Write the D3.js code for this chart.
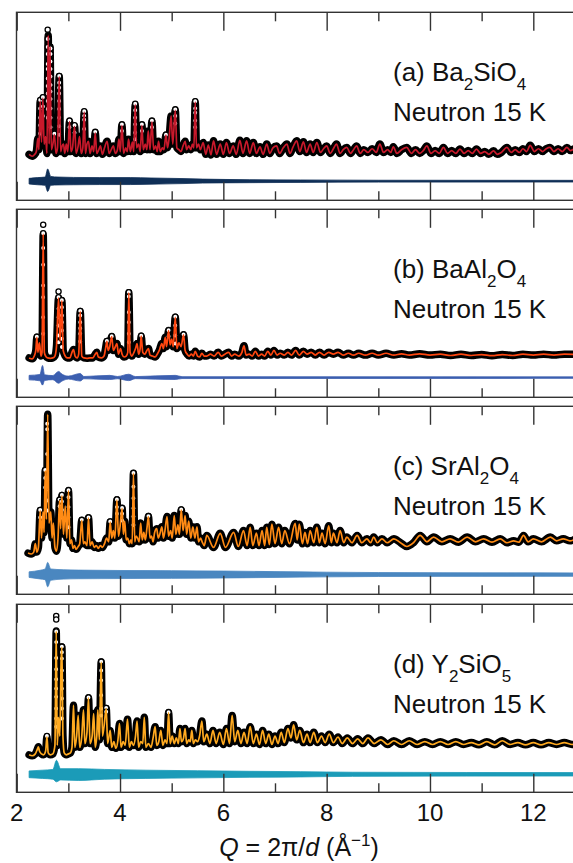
<!DOCTYPE html>
<html>
<head>
<meta charset="utf-8">
<script src="https://cdn.jsdelivr.net/npm/d3@7"></script>
<style>
  body { margin: 0; background: #fff; }
  svg { display: block; font-family: "Liberation Sans", Arial, Helvetica, sans-serif; }
</style>
</head>
<body>
<div id="chart"></div>
<script>
// ---- data: [Q (1/A), intensity (arb., 0-100 of panel height)] ----

// (a) Ba2SiO4 - calculated profile
var calcA = [[2.24,24.5],[2.30,23.5],[2.35,24.5],[2.38,26],[2.41,33],[2.43,27],[2.455,53],[2.48,31],[2.507,54.5],[2.53,30],[2.56,34],[2.585,25],[2.61,88],[2.628,30],[2.645,82],[2.67,27],[2.70,30],[2.73,35],[2.76,25],[2.79,28],[2.823,66],[2.85,26],[2.88,29],[2.906,30],[2.93,25],[2.96,30],[2.99,26],[3.022,42],[3.05,26],[3.08,28],[3.12,39.5],[3.15,25],[3.19,29],[3.216,34],[3.25,25],[3.28,28],[3.307,47],[3.33,25],[3.36,30],[3.39,31.5],[3.42,25],[3.46,29],[3.49,26],[3.52,36],[3.55,25],[3.59,27],[3.62,29],[3.66,24.5],[3.70,28],[3.75,31.5],[3.79,25],[3.83,27],[3.87,29],[3.91,25],[3.95,27],[3.98,32.6],[4.005,26],[4.037,40],[4.07,25],[4.11,28],[4.14,26],[4.165,32.6],[4.20,26],[4.24,31],[4.265,26],[4.294,51],[4.32,28],[4.36,30],[4.39,26],[4.424,40],[4.45,27],[4.49,30],[4.52,27],[4.546,37],[4.58,27],[4.618,42],[4.65,27],[4.69,29],[4.72,26],[4.745,31.5],[4.78,26],[4.82,28],[4.85,27],[4.889,34.8],[4.92,28],[4.95,33],[4.99,45],[5.02,30],[5.07,48],[5.10,28],[5.14,27],[5.18,26],[5.22,29],[5.26,31.5],[5.29,27],[5.33,29],[5.37,27],[5.40,30],[5.43,28],[5.456,52.4],[5.48,28],[5.52,30],[5.555,27],
  [5.61,30.8],[5.66,24.5],[5.71,29.5],[5.76,24.2],[5.81,31.7],[5.87,24.5],[5.94,30],[6.0,24.5],[6.06,30.8],[6.12,25],[6.19,29],[6.25,24.5],[6.32,32],[6.38,25],[6.45,31.7],[6.51,25],[6.58,30.8],[6.64,25],[6.71,28.5],[6.77,24.5],[6.84,30],[6.90,25],[6.96,28],[7.03,29],[7.09,25],[7.16,28],[7.23,30],[7.29,25],[7.35,28.5],[7.42,31.7],[7.48,26],[7.55,31.2],[7.61,25.5],[7.68,30],[7.74,25.5],[7.81,30.8],[7.88,25.5],[7.94,27.5],[8.0,29],[8.07,25],[8.13,27.5],[8.19,30],[8.26,25],[8.32,27],[8.39,28.2],[8.46,25],[8.52,27],[8.58,29],[8.65,25],[8.72,27],[8.8,25.5],[8.88,27.5],[8.96,25.5],[9.03,30],[9.1,25.5],[9.18,27],[9.24,25.5],[9.29,28.5],[9.36,25],[9.45,27],[9.55,28.2],[9.64,25],[9.72,27],[9.8,25],[9.87,26.5],[9.94,29],[10.02,25],[10.1,26.5],[10.18,25],[10.26,28.2],[10.34,25],[10.42,26.5],[10.5,25],[10.58,27.3],[10.66,25],[10.74,26.5],[10.82,25],[10.9,27.3],[10.98,25],[11.06,26],[11.14,24.5],[11.23,26.4],[11.3,24.5],[11.38,25.5],[11.49,28.2],[11.57,25.5],[11.65,27],[11.73,25.5],[11.8,27.5],[11.87,26],[11.94,29.3],[12.02,26],[12.1,27.5],[12.18,26],[12.25,27.5],[12.32,28.2],[12.4,26],[12.48,27.5],[12.56,26],[12.65,28.2],[12.72,26.5],[12.8,27.5],[12.9,27]];
// (a) observed points that stand clear of the curve on strong reflections
var obsA = [[2.60,91],[2.60,86],[2.60,81.8],[2.60,78],[2.60,72.7],[2.60,70],[2.60,65],[2.60,61],[2.60,57],[2.60,53],[2.60,48.7],[2.60,44],
  [2.655,81],[2.655,78],[2.655,74],[2.655,70],[2.655,66],[2.655,61.5],[2.655,58],[2.655,54],[2.655,49],[2.655,44],[2.655,39],
  [2.455,53.5],[2.455,49],[2.455,44],[2.455,40],[2.455,35.6],[2.507,55],[2.507,50],[2.507,45],[2.73,35.5],
  [2.823,66.3],[2.823,62.7],[2.823,60],[2.823,57],[2.823,53],[2.823,48.7],[2.823,44],[2.823,39.5],[2.823,35],
  [3.022,42.5],[3.022,39],[3.12,40],[3.12,36],[3.307,47.5],[3.307,45],[3.307,43],[3.307,38],[3.52,36.5],
  [4.037,40.5],[4.037,37],[4.294,51.5],[4.294,48],[4.294,44],[4.294,40.5],[4.294,36],[4.294,32.6],
  [4.424,40.5],[4.424,37],[4.618,42.5],[4.618,39],[4.889,35],[5.07,48.5],[5.07,45],[5.07,41],
  [5.456,52.8],[5.456,49],[5.456,46.7],[5.456,42.5],[5.456,39]];
// (a) difference envelope: [Q, upper, lower]
var diffA = [[2.24,1.5,1.5],[2.40,1.9,1.9],[2.55,2.2,2.2],[2.60,6.5,5.5],[2.66,2.5,2.2],[2.80,2.2,2],[3.1,2,1.9],[3.6,1.9,1.8],[4.2,1.9,1.8],[4.6,1.7,1.6],[5.2,1.4,1.3],[5.6,1.1,1],[6.5,0.8,0.8],[7.5,0.65,0.65],[9,0.5,0.5],[12.9,0.45,0.45]];

// (b) BaAl2O4
var calcB = [[2.24,21],[2.30,20.5],[2.34,22],[2.37,25],[2.39,32],[2.41,24],[2.44,29],[2.47,22],[2.49,24],[2.513,87],[2.535,24],[2.56,22],[2.60,21],[2.65,20.8],[2.70,21],[2.74,22],[2.77,27],[2.81,53],[2.84,30],[2.875,51.6],[2.90,25],[2.94,22],[2.98,21],[3.03,21],[3.07,24],[3.10,25.5],[3.13,22],[3.17,21],[3.20,23],[3.23,45.7],[3.26,22],[3.30,21],[3.36,20.8],[3.42,21],[3.47,21],[3.52,23],[3.55,24],[3.58,21.5],[3.64,21],[3.69,22],[3.72,26],[3.746,29.8],[3.77,25],[3.80,27],[3.84,32.4],[3.87,25],[3.91,27],[3.94,28.7],[3.97,23],[4.01,26],[4.04,23],[4.08,21.5],[4.12,22],[4.15,24],[4.17,55.7],[4.195,24],[4.23,22],[4.27,24],[4.30,26],[4.33,28.7],[4.36,23],[4.39,26],[4.41,32.6],[4.44,24],[4.48,23],[4.52,25],[4.55,26],[4.58,22.5],[4.63,22],[4.68,21.5],[4.72,23],[4.76,25],[4.81,28.7],[4.84,26],[4.875,32],[4.90,27],[4.94,35.6],[4.97,28],[5.00,31],[5.03,27],[5.07,42.7],[5.10,26],[5.14,29],[5.18,27],[5.23,33.3],[5.26,25],[5.30,23],[5.34,22],[5.38,23],[5.42,22],[5.456,24.5],[5.50,22],[5.54,21.5],[5.585,23.5],[5.63,22],
  [5.68,22],[5.75,23],[5.82,22],[5.90,24],[5.96,22],[6.03,23],[6.10,24],[6.16,22],[6.22,23],[6.30,22],[6.36,24],[6.40,27.5],[6.44,22.5],[6.50,23],[6.56,22],[6.62,24.5],[6.68,22],[6.74,23],[6.80,22],[6.86,24.5],[6.92,22.5],[6.98,25],[7.04,22.5],[7.10,23.5],[7.18,22.5],[7.25,24],[7.32,22.5],[7.40,25],[7.47,22.5],[7.55,24.5],[7.62,23],[7.70,24],[7.78,22.5],[7.86,24],[7.95,22.5],[8.04,24],[8.13,23],[8.22,24],[8.32,22.5],[8.42,23.5],[8.52,22.5],[8.62,23.5],[8.75,22.5],[8.88,23.5],[9.0,22.5],[9.15,23.5],[9.3,22.5],[9.45,23.2],[9.6,22.5],[9.8,23.2],[10.0,22.5],[10.2,23],[10.4,22.3],[10.6,23],[10.8,22.3],[11.0,22.8],[11.2,22.2],[11.4,22.8],[11.6,22.3],[11.8,23],[12.0,22.5],[12.2,23],[12.4,22.5],[12.6,23],[12.9,22.8]];
var obsB = [[2.513,92],[2.513,87.5],[2.513,79.6],[2.513,70.7],[2.513,59.6],[2.513,53.4],[2.513,42.7],[2.513,33.9],[2.39,32.3],
  [2.81,56.4],[2.81,53.4],[2.81,47.2],[2.81,42.7],[2.81,38.3],[2.81,33],[2.81,29.4],
  [2.875,51.8],[2.875,48],[2.875,43.6],[2.875,40],[2.875,35.6],[2.875,31.2],[2.875,26.8],
  [3.23,46],[3.23,43.6],[3.23,40],[3.23,36.8],[3.23,33.9],[3.23,29.8],[3.746,30],[3.84,32.6],
  [4.17,56],[4.17,53.8],[4.17,45.4],[4.17,40],[4.17,33.9],[4.17,29.4],[4.41,32.8],[4.94,35.8],[4.94,32.6],
  [5.07,43],[5.07,38.3],[5.07,33],[5.07,28.7],[5.23,33.5]];
var diffB = [[2.24,1.2,1.2],[2.45,1.7,1.7],[2.50,6.5,4],[2.54,1.5,1.5],[2.70,1.1,1.1],[2.81,3.3,3],[2.88,1.8,1.8],[3.0,0.8,0.8],[3.23,2.2,1.8],[3.3,0.6,0.6],[3.8,1.2,1],[3.95,0.6,0.6],[4.17,1.8,1.6],[4.3,0.55,0.55],[5.07,1.2,1],[5.2,0.5,0.5],[12.9,0.4,0.4]];

// (c) SrAl2O4
var calcC = [[2.22,22],[2.28,21.5],[2.33,22.5],[2.36,27],[2.39,22.5],[2.42,25],[2.455,44.7],[2.48,30],[2.51,44],[2.53,33],[2.552,66],[2.575,40],[2.60,96],[2.625,38],[2.66,44],[2.685,30],[2.71,38],[2.74,25],[2.77,23],[2.80,30],[2.83,50],[2.85,35],[2.875,52.7],[2.905,32],[2.94,47],[2.97,30],[3.003,55.3],[3.03,27],[3.06,29],[3.09,24.5],[3.12,26],[3.15,24],[3.19,25.5],[3.22,27],[3.26,39.4],[3.29,27],[3.32,28],[3.36,26],[3.39,40.8],[3.42,26],[3.46,28],[3.50,25],[3.54,26],[3.58,24.5],[3.62,26],[3.66,25],[3.70,27],[3.74,30],[3.78,28],[3.81,38.5],[3.84,30],[3.87,34],[3.90,30],[3.94,50.4],[3.97,31],[4.00,36],[4.04,45.9],[4.065,32],[4.09,39],[4.12,29],[4.15,30],[4.18,27],[4.21,29],[4.235,27],[4.26,64.5],[4.285,28],[4.31,31],[4.34,30],[4.37,28],[4.40,38],[4.43,29],[4.46,33],[4.49,29],[4.52,35],[4.55,41.5],[4.58,30],[4.61,31],[4.64,28],[4.67,33],[4.71,35],[4.74,30],[4.77,32],[4.81,36],[4.84,30],[4.87,34],[4.91,41.5],[4.94,31],[4.98,34],[5.01,30],[5.05,42],[5.08,32],[5.12,37],[5.15,32],[5.185,45],[5.22,34],[5.26,42],[5.29,32],[5.33,39],[5.37,30],[5.41,36],[5.45,30],[5.49,36],[5.52,28],[5.56,30],[5.59,28],[5.63,26],
  [5.68,31.4],[5.81,25],[5.94,32.5],[6.04,25],[6.20,33],[6.29,25.5],[6.39,34],[6.46,26],[6.52,35.7],[6.57,26],[6.64,32.6],[6.69,26],[6.75,34],[6.80,26],[6.84,35.7],[6.89,26.5],[6.94,37.4],[7.0,27],[7.07,35.7],[7.13,27],[7.19,34],[7.28,27],[7.39,37.8],[7.43,29],[7.47,37.4],[7.53,27],[7.58,33],[7.63,27],[7.68,34],[7.75,27.5],[7.81,35.7],[7.86,27.5],[7.91,32.6],[7.97,27],[8.04,36.5],[8.09,27.5],[8.13,32.6],[8.2,27.5],[8.26,34],[8.33,27.5],[8.39,30.5],[8.49,27.5],[8.59,31.4],[8.68,27.5],[8.78,29.6],[8.85,27.5],[8.91,30.5],[8.98,27.5],[9.07,29.6],[9.17,27.5],[9.3,29.6],[9.43,27.5],[9.55,25.5],[9.68,27.5],[9.81,31.4],[9.94,28],[10.07,30.5],[10.23,28],[10.39,29.6],[10.55,27.8],[10.72,30.5],[10.88,28],[11.04,29.6],[11.2,27.8],[11.36,29.6],[11.49,27.5],[11.62,28.5],[11.72,27.8],[11.81,31.4],[11.9,28],[12.0,29.6],[12.16,28],[12.33,30.5],[12.45,28.5],[12.58,29.6],[12.71,28.5],[12.84,30]];
var obsC = [[2.59,91],[2.59,88],[2.59,74.8],[2.59,66],[2.59,60.6],[2.59,56],[2.59,50],[2.59,44.7],[2.552,66.3],[2.552,62],[2.552,57],[2.455,45],[2.455,41],
  [2.83,50.5],[2.83,47],[2.875,53],[2.875,49.5],[2.875,45],[2.875,41],[3.003,55.5],[3.003,51.8],[3.003,46.5],[3.003,41.1],[3.003,35.8],
  [3.26,39.7],[3.39,41],[3.81,38.8],[3.94,50.6],[3.94,46.5],[3.94,43],[4.04,46],[4.04,43],[4.04,39.4],
  [4.26,64.7],[4.26,57.4],[4.26,51.2],[4.26,45.9],[4.26,41.5],[4.26,37],[4.55,41.7],[5.185,45.2]];
var diffC = [[2.24,1.5,1.5],[2.45,2.3,2.3],[2.55,3,2.7],[2.60,6.5,6.5],[2.66,3,3],[2.9,2.6,2.4],[3.2,2.4,2.2],[4.0,2.2,2.1],[5.0,2.1,2],[6.0,1.9,1.8],[7.0,1.6,1.5],[8.0,1.3,1.2],[9.0,1.1,1],[12.9,0.9,0.9]];

// (d) Y2SiO5
var calcD = [[2.24,20],[2.30,19.5],[2.36,20.5],[2.40,23],[2.42,24.3],[2.44,22],[2.48,20.5],[2.52,20],[2.56,22],[2.585,29.6],[2.61,21],[2.65,20],[2.70,20.5],[2.74,25],[2.765,86],[2.785,25],[2.81,40],[2.835,30],[2.86,70],[2.875,77.5],[2.895,30],[2.92,21],[2.96,20],[3.0,20.5],[3.04,21],[3.07,24],[3.10,46.4],[3.125,24],[3.16,30],[3.19,41],[3.22,24],[3.26,30],[3.293,44],[3.32,26],[3.36,32],[3.39,50.4],[3.42,26],[3.46,30],[3.49,42],[3.52,24],[3.55,30],[3.57,44],[3.60,28],[3.636,69.5],[3.66,30],[3.69,35],[3.733,44.7],[3.76,26],[3.81,33],[3.84,24],[3.88,27],[3.92,23.5],[3.96,28],[3.99,36.7],[4.02,24],[4.06,27],[4.10,25],[4.145,39],[4.18,24],[4.22,27],[4.26,25],[4.30,30],[4.33,38],[4.36,24],[4.40,27],[4.44,26],[4.47,40],[4.50,24],[4.55,26],[4.60,24],[4.64,29],[4.68,35],[4.71,25],[4.75,27],[4.79,33],[4.83,25],[4.87,28],[4.91,26],[4.94,42.5],[4.97,26],[5.01,30],[5.05,26],[5.09,29],[5.13,26],[5.16,34],[5.19,27],[5.23,29],[5.26,34],[5.29,26],[5.33,28],[5.36,27],[5.39,33],[5.42,26],[5.46,28],[5.50,27],[5.54,30],[5.585,38],[5.62,27],[5.68,31],
  [5.74,26],[5.80,33],[5.86,26],[5.93,32],[6.0,25.5],[6.06,34],[6.12,26],[6.17,41],[6.22,27],[6.28,33],[6.34,26],[6.40,32],[6.46,26],[6.52,35],[6.58,26],[6.64,31],[6.70,25.5],[6.76,33],[6.82,26],[6.88,31],[6.94,25.5],[7.0,30],[7.06,26],[7.12,32],[7.18,26.5],[7.25,34],[7.31,29],[7.36,36],[7.42,28],[7.48,33],[7.55,26.5],[7.62,31],[7.68,26.5],[7.75,32],[7.82,26.5],[7.90,30],[7.97,26.5],[8.05,31],[8.13,26.5],[8.22,29.5],[8.30,26],[8.40,29],[8.50,26],[8.60,28.5],[8.70,26],[8.80,29],[8.92,26],[9.05,28],[9.18,25.5],[9.30,27.5],[9.45,25.5],[9.6,27.5],[9.75,25.5],[9.9,27],[10.05,25.5],[10.2,27],[10.35,25.5],[10.5,27],[10.65,25.5],[10.8,26.5],[10.95,25.3],[11.1,27],[11.25,25.3],[11.4,27.5],[11.55,25.5],[11.7,26.5],[11.85,25.3],[12.0,26.5],[12.15,25.3],[12.3,26.5],[12.45,25.5],[12.6,26.5],[12.75,25.5],[12.9,26]];
var obsD = [[2.765,94],[2.765,92.2],[2.765,85.8],[2.765,80.1],[2.765,71.6],[2.765,65.6],[2.765,60.3],[2.765,55.3],[2.765,50.9],[2.765,44.7],[2.765,39.4],[2.765,35],
  [2.875,77.7],[2.875,74.7],[2.875,71.3],[2.875,65],[2.875,59.7],[2.875,55.3],[2.875,50],[2.875,44.7],[2.875,39.4],[2.585,30],
  [3.636,69.7],[3.636,65],[3.636,59.7],[3.636,51.8],[3.636,44.7],[3.636,41],[3.733,45],[3.733,43],[3.39,50.6],[4.94,42.7]];
var diffD = [[2.24,1.8,1.8],[2.5,2.2,2.2],[2.70,2.6,2.6],[2.77,7.5,4],[2.85,3,3],[3.2,3,3.3],[3.7,2.6,2.6],[4.5,2.2,2.2],[5.5,1.9,1.9],[6.5,1.6,1.6],[7.5,1.4,1.4],[8.5,1.1,1.1],[12.9,0.9,0.9]];

// zero level of each difference curve, in the panel's intensity units
var diffZero = [10.2, 10.5, 10.5, 9.6];

// panel labels: [text, isSubscript]
var labelA = [["(a) Ba", 0], ["2", 1], ["SiO", 0], ["4", 1]];
var labelB = [["(b) BaAl", 0], ["2", 1], ["O", 0], ["4", 1]];
var labelC = [["(c) SrAl", 0], ["2", 1], ["O", 0], ["4", 1]];
var labelD = [["(d) Y", 0], ["2", 1], ["SiO", 0], ["5", 1]];
var subLabel = "Neutron 15 K";

var fitColors = ["#c8192b", "#ff4710", "#ff8b14", "#ffaa20"];
var diffColors = ["#0f2f57", "#3c5fb0", "#4a87c0", "#1b9bb8"];

var majorTicks = [2, 4, 6, 8, 10, 12];
var minorTicks = [3, 5, 7, 9, 11];

// ---- layout ----
var width = 573, height = 863;
var panelTops = [12.3, 209.3, 406.3, 604.3];
var panelH = 188;
var frameLeft = 16.5, frameRight = 600;

var svg = d3.select("#chart").append("svg")
  .attr("width", width)
  .attr("height", height);

var x = d3.scaleLinear()
  .domain([2, 12])
  .range([16.7, 533.3]);

var panels = [
  {calc: calcA, obs: obsA, diff: diffA, label: labelA},
  {calc: calcB, obs: obsB, diff: diffB, label: labelB},
  {calc: calcC, obs: obsC, diff: diffC, label: labelC},
  {calc: calcD, obs: obsD, diff: diffD, label: labelD}
];

panels.forEach(function (p, i) {
  var top = panelTops[i];
  var bottom = top + panelH;
  var y = d3.scaleLinear()
    .domain([0, 100])
    .range([bottom, bottom - 187.5]);

  var clipId = "clip" + i;
  svg.append("clipPath").attr("id", clipId)
    .append("rect")
    .attr("x", frameLeft).attr("y", top)
    .attr("width", frameRight - frameLeft).attr("height", panelH);

  var g = svg.append("g").attr("clip-path", "url(#" + clipId + ")");

  // difference curve
  var zero = diffZero[i];
  var diffArea = d3.area()
    .x(function (d) { return x(d[0]); })
    .y0(function (d) { return y(zero - d[2]); })
    .y1(function (d) { return y(zero + d[1]); })
    .curve(d3.curveMonotoneX);
  g.append("path")
    .datum(p.diff)
    .attr("d", diffArea)
    .attr("fill", diffColors[i])
    .attr("stroke", diffColors[i])
    .attr("stroke-width", 0.8);

  var line = d3.line()
    .x(function (d) { return x(d[0]); })
    .y(function (d) { return y(d[1]); })
    .curve(d3.curveMonotoneX);

  // observed data: dense open circles merge into a black band
  g.append("path")
    .datum(p.calc)
    .attr("d", line)
    .attr("fill", "none")
    .attr("stroke", "#000")
    .attr("stroke-width", 7.5)
    .attr("stroke-linejoin", "round")
    .attr("stroke-linecap", "round");

  g.selectAll("circle.obs")
    .data(p.obs)
    .enter().append("circle")
    .attr("class", "obs")
    .attr("cx", function (d) { return x(d[0]); })
    .attr("cy", function (d) { return y(d[1]); })
    .attr("r", 2.6)
    .attr("fill", "#fff")
    .attr("stroke", "#000")
    .attr("stroke-width", 1.3);

  // fit
  g.append("path")
    .datum(p.calc)
    .attr("d", line)
    .attr("fill", "none")
    .attr("stroke", fitColors[i])
    .attr("stroke-width", 1.7)
    .attr("stroke-linejoin", "round");

  // frame
  svg.append("rect")
    .attr("x", frameLeft).attr("y", top)
    .attr("width", frameRight - frameLeft).attr("height", panelH)
    .attr("fill", "none")
    .attr("stroke", "#333")
    .attr("stroke-width", 1.4);

  // inward ticks on top and bottom
  [[majorTicks, 18.5], [minorTicks, 9]].forEach(function (t) {
    var axT = svg.append("g").attr("transform", "translate(0," + top + ")")
      .call(d3.axisTop(x).tickValues(t[0]).tickSize(-t[1]).tickFormat(""));
    var axB = svg.append("g").attr("transform", "translate(0," + bottom + ")")
      .call(d3.axisBottom(x).tickValues(t[0]).tickSize(-t[1]).tickFormat(""));
    [axT, axB].forEach(function (ax) {
      ax.select(".domain").remove();
      ax.selectAll("line").attr("stroke", "#333").attr("stroke-width", 1.4);
    });
  });

  // labels
  var lab = svg.append("text")
    .attr("x", 393)
    .attr("y", top + 69)
    .attr("font-size", 26)
    .attr("fill", "#111");
  var shifted = 0;
  p.label.forEach(function (part) {
    var dy = part[1] ? 9 - shifted : -shifted;
    shifted = part[1] ? 9 : 0;
    lab.append("tspan")
      .attr("dy", dy)
      .attr("font-size", part[1] ? 17 : 26)
      .text(part[0]);
  });
  svg.append("text")
    .attr("x", 393)
    .attr("y", top + 108.5)
    .attr("font-size", 26)
    .attr("fill", "#111")
    .text(subLabel);
});

// x tick labels under the last panel
var lastBottom = panelTops[3] + panelH;
svg.selectAll("text.tick-label")
  .data(majorTicks)
  .enter().append("text")
  .attr("class", "tick-label")
  .attr("x", function (d) { return x(d); })
  .attr("y", lastBottom + 29)
  .attr("text-anchor", "middle")
  .attr("font-size", 24)
  .attr("fill", "#111")
  .text(function (d) { return d; });

// axis title
var title = svg.append("text")
  .attr("x", 299)
  .attr("y", 856)
  .attr("text-anchor", "middle")
  .attr("font-size", 25)
  .attr("fill", "#111");
title.append("tspan").attr("font-style", "italic").text("Q");
title.append("tspan").text(" = 2\u03c0/");
title.append("tspan").attr("font-style", "italic").text("d");
title.append("tspan").text(" (\u00c5");
title.append("tspan").attr("dy", -10).attr("font-size", 17).text("\u22121");
title.append("tspan").attr("dy", 10).text(")");
</script>
</body>
</html>
